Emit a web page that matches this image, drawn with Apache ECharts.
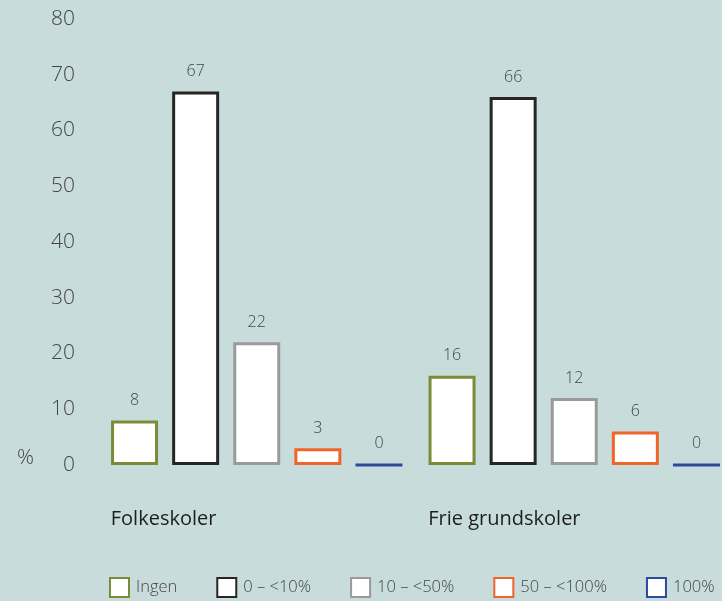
<!DOCTYPE html>
<html><head><meta charset="utf-8">
<script src="https://cdn.jsdelivr.net/npm/echarts@6/dist/echarts.min.js"></script>
<style>html,body{margin:0;padding:0;background:#c8dcdb;}#c{width:722px;height:601px;}</style>
</head><body><div id="c"></div>
<script>
const categories = ['Folkeskoler', 'Frie grundskoler'];
const seriesNames = ['Ingen', '0 – <10%', '10 – <50%', '50 – <100%', '100%'];
const ingen = [8, 16];
const under10 = [67, 66];
const from10to50 = [22, 12];
const from50to100 = [3, 6];
const full100 = [0, 0];
const yTicks = [0, 10, 20, 30, 40, 50, 60, 70, 80];
const colors = ['#7b8c38', '#262626', '#9a9a9a', '#f0642a', '#2b4a9b'];
const values = [ingen, under10, from10to50, from50to100, full100];

const chart = echarts.init(document.getElementById('c'));
const font = '"Open Sans", sans-serif';
chart.setOption({
  backgroundColor: '#c8dcdb',
  animation: false,
  grid: { left: 98, width: 635, top: 19, bottom: 136, outerBoundsMode: 'none', containLabel: false },
  legend: {
    left: 104, bottom: -2, width: 760, itemWidth: 19, itemHeight: 19, itemGap: 39, icon: 'rect',
    data: seriesNames,
    textStyle: { fontFamily: font, fontSize: 16.5, fontWeight: 300, color: '#444', padding: [0, 0, 0, 2] }
  },
  xAxis: {
    type: 'category', data: categories,
    axisLine: { show: false }, axisTick: { show: false },
    axisLabel: {
      margin: 44, align: 'center',
      formatter: v => '{a|' + v + '}',
      rich: { a: { width: 292, align: 'left', fontFamily: font, fontSize: 20, fontWeight: 500, color: '#1e1e1e' } }
    }
  },
  yAxis: {
    type: 'value', min: 0, max: 80, interval: 10,
    splitLine: { show: false }, axisLine: { show: false }, axisTick: { show: false },
    axisLabel: {
      margin: 23, fontFamily: font, fontSize: 21, fontWeight: 300, color: '#444',
      padding: [0, 0, 4, 0],
      formatter: v => yTicks.includes(v) ? String(v) : ''
    }
  },
  graphic: [{ type: 'text', left: 17, top: 448, style: { text: '%', fontFamily: font, fontSize: 21, fontWeight: 300, fill: '#444' } }],
  series: seriesNames.map((name, i) => ({
    name, type: 'bar', data: values[i], barWidth: 47, barGap: '30%',
    itemStyle: { color: '#ffffff', borderColor: colors[i], borderWidth: 3 },
    label: { show: true, position: 'top', distance: 12, fontFamily: font, fontSize: 16, fontWeight: 300, color: '#444' }
  }))
});
</script></body></html>
